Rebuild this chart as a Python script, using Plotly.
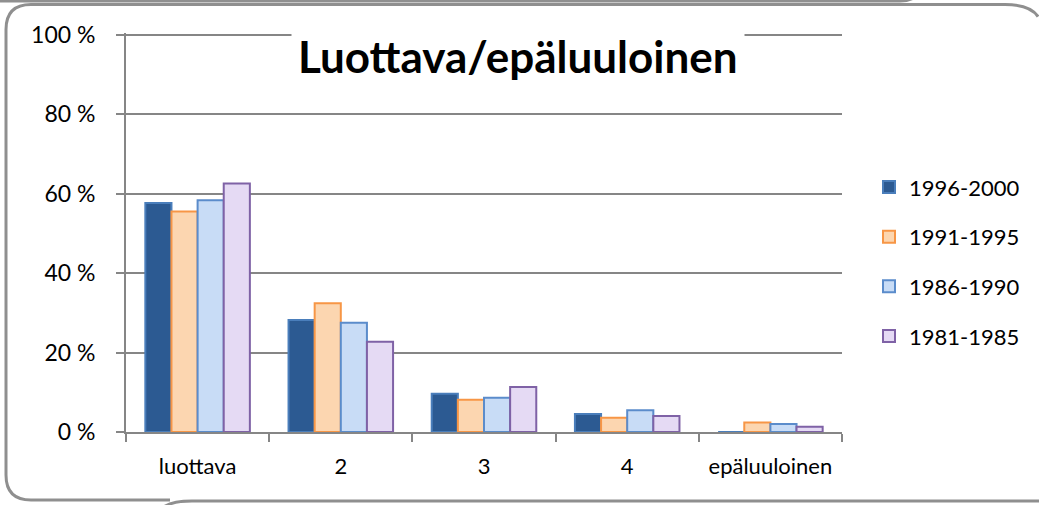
import plotly.graph_objects as go

categories = ["luottava", "2", "3", "4", "epäluuloinen"]
series_names = ["1996-2000", "1991-1995", "1986-1990", "1981-1985"]
v_1996_2000 = [57.6, 28.2, 9.6, 4.5, 0.0]
v_1991_1995 = [55.5, 32.4, 8.1, 3.6, 2.4]
v_1986_1990 = [58.3, 27.5, 8.6, 5.5, 2.0]
v_1981_1985 = [62.5, 22.7, 11.3, 4.0, 1.3]
y_tick_vals = [0, 20, 40, 60, 80, 100]
y_tick_text = ["0 %", "20 %", "40 %", "60 %", "80 %", "100 %"]
title_text = "Luottava/epäluuloinen"

values = [v_1996_2000, v_1991_1995, v_1986_1990, v_1981_1985]
fills = ["#2c5a92", "#fcd6b0", "#c8dcf6", "#e5daf4"]
lines = ["#4a7ebb", "#f79646", "#5b8ccb", "#7f62a6"]

W, H = 1039, 505
Y_TOP = 100.4
L, R, B = 126, 842, 432
T = 35 - (Y_TOP - 100) * (B - 35) / 100.0
FONT = "Lato"


def px(x):
    return (x - L) / (R - L)


def py(y):
    return (B - y) / (B - T)


fig = go.Figure()
for i, (name, vals) in enumerate(zip(series_names, values)):
    fig.add_trace(go.Bar(
        x=categories, y=vals, name=name,
        marker=dict(color=fills[i], line=dict(color=lines[i], width=2)),
        legendgroup=name,
    ))

# decorative frames (slide borders)
gray = "#8f8f8f"
r = 25
x0, y0, x1, y1 = 6, 5, 1060, 500
main = (f"M {px(x0)},{py(y0 + r)} Q {px(x0)},{py(y0)} {px(x0 + r)},{py(y0)} "
        f"L {px(x1 - 30 - r)},{py(y0)} Q {px(x1 - 30)},{py(y0)} {px(x1 - 30 + 8)},{py(y0 + 12)} "
        f"M {px(x0)},{py(y0 + r)} L {px(x0)},{py(y1 - r)} Q {px(x0)},{py(y1)} {px(x0 + r)},{py(y1)} "
        f"L {px(170)},{py(y1)}")
upper = f"M {px(-5)},{py(1.5)} L {px(900)},{py(1.5)} Q {px(912)},{py(1.5)} {px(920)},{py(-6)}"
lower = f"M {px(158)},{py(512)} Q {px(166)},{py(501)} {px(192)},{py(501)} L {px(1060)},{py(501)}"
shapes = []
for p in (main, upper, lower):
    shapes.append(dict(type="path", path=p, xref="paper", yref="paper",
                       line=dict(color=gray, width=3), layer="above"))

fig.update_layout(
    width=W, height=H,
    margin=dict(l=L, r=W - R, t=T, b=H - B, autoexpand=False),
    paper_bgcolor="white", plot_bgcolor="white",
    font=dict(family=FONT, size=22, color="#000000"),
    barmode="group", bargap=0.27, bargroupgap=0.0,
    showlegend=True,
    legend=dict(x=px(869), y=py(262), xanchor="left", yanchor="middle",
                font=dict(family=FONT, size=22, color="#000000"),
                traceorder="grouped", tracegroupgap=18,
                bgcolor="rgba(0,0,0,0)", itemclick=False),
    xaxis=dict(showline=True, linecolor="#868686", linewidth=2,
               ticks="outside", tickson="boundaries", ticklen=8,
               tickcolor="#868686", tickwidth=2, showgrid=False,
               ticklabelstandoff=14, tickfont=dict(size=22)),
    yaxis=dict(range=[0, Y_TOP], tickvals=y_tick_vals, ticktext=y_tick_text,
               showline=True, linecolor="#868686", linewidth=2,
               ticks="outside", ticklen=8, tickcolor="#868686", tickwidth=2,
               showgrid=True, gridcolor="#868686", gridwidth=2,
               zeroline=False, ticklabelstandoff=16, tickfont=dict(size=23)),
    shapes=shapes,
    annotations=[dict(text="<b>" + title_text + "</b>", x=px(518), y=py(56),
                      xref="paper", yref="paper", showarrow=False,
                      xanchor="center", yanchor="middle",
                      font=dict(family=FONT, size=44, color="#000000"),
                      bgcolor="white", borderpad=6)],
)

fig.write_html("out.html", config={"displayModeBar": False},
               post_script="document.body.style.margin='0';")
